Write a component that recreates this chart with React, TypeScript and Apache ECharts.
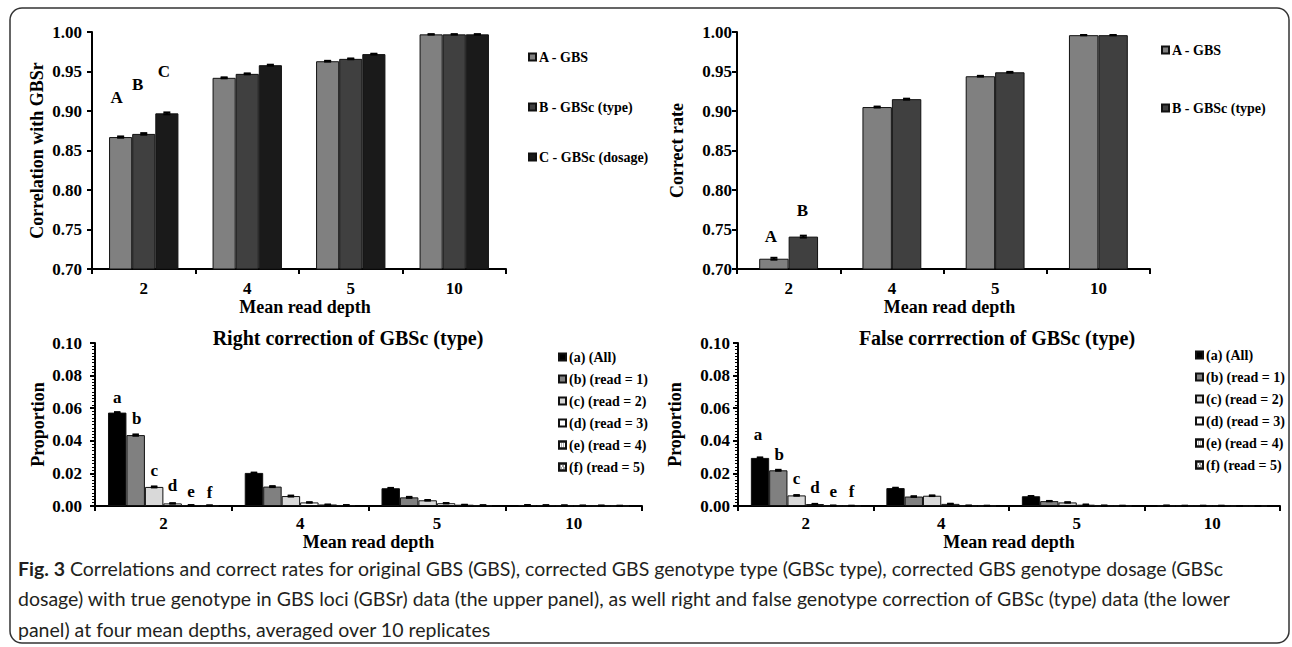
import React, { useEffect, useRef } from "react";
import * as echarts from "echarts";

// ---------------- data ----------------
const depthCategories = ["2", "4", "5", "10"];

// Top-left: correlation with GBSr
const corrNames = ["A - GBS", "B - GBSc (type)", "C - GBSc (dosage)"];
const corrLetters = ["A", "B", "C"];
const corrGBS = [0.867, 0.942, 0.963, 0.997];
const corrGBScType = [0.871, 0.947, 0.966, 0.997];
const corrGBScDosage = [0.897, 0.958, 0.972, 0.997];
const corrGBSErr = [0.0008, 0.0006, 0.0005, 0.0002];
const corrGBScTypeErr = [0.001, 0.0006, 0.0005, 0.0002];
const corrGBScDosageErr = [0.0012, 0.0006, 0.0005, 0.0002];

// Top-right: correct rate
const rateNames = ["A - GBS", "B - GBSc (type)"];
const rateLetters = ["A", "B"];
const rateGBS = [0.713, 0.905, 0.944, 0.996];
const rateGBScType = [0.741, 0.915, 0.949, 0.996];
const rateGBSErr = [0.0012, 0.0006, 0.0005, 0.0002];
const rateGBScTypeErr = [0.0012, 0.0006, 0.0005, 0.0002];

// Bottom: right / false correction of GBSc (type)
const readNames = ["(a) (All)", "(b) (read = 1)", "(c) (read = 2)", "(d) (read = 3)", "(e) (read = 4)", "(f) (read = 5)"];
const readLetters = ["a", "b", "c", "d", "e", "f"];

const rightAll = [0.0573, 0.0203, 0.0109, 0.0005];
const rightRead1 = [0.0435, 0.0119, 0.0053, 0.0004];
const rightRead2 = [0.0117, 0.0061, 0.0035, 0.0003];
const rightRead3 = [0.0016, 0.0022, 0.0017, 0.0002];
const rightRead4 = [0.0005, 0.0008, 0.0007, 0.0002];
const rightRead5 = [0.0003, 0.0005, 0.0004, 0.0001];
const rightAllErr = [0.0003, 0.0002, 0.0002, 0.0001];
const rightRead1Err = [0.0004, 0.0003, 0.0003, 0.0001];
const rightRead2Err = [0.0003, 0.0003, 0.0002, 0.0001];
const rightRead3Err = [0.0001, 0.0001, 0.0001, 0.0];
const rightRead4Err = [0.0, 0.0, 0.0, 0.0];
const rightRead5Err = [0.0, 0.0, 0.0, 0.0];

const falseAll = [0.0295, 0.011, 0.006, 0.0002];
const falseRead1 = [0.0219, 0.0058, 0.003, 0.0001];
const falseRead2 = [0.0065, 0.0063, 0.0022, 0.0001];
const falseRead3 = [0.0012, 0.0013, 0.0008, 0.0001];
const falseRead4 = [0.0002, 0.0002, 0.0002, 0.0];
const falseRead5 = [0.0001, 0.0001, 0.0001, 0.0];
const falseAllErr = [0.0003, 0.0002, 0.0001, 0.0];
const falseRead1Err = [0.0003, 0.0002, 0.0001, 0.0];
const falseRead2Err = [0.0002, 0.0002, 0.0001, 0.0];
const falseRead3Err = [0.0001, 0.0001, 0.0, 0.0];
const falseRead4Err = [0.0, 0.0, 0.0, 0.0];
const falseRead5Err = [0.0, 0.0, 0.0, 0.0];

const rightTitle = "Right correction of GBSc (type)";
const falseTitle = "False corrrection of GBSc (type)";
const xName = "Mean read depth";
const captionLines = [
  " Correlations and correct rates for original GBS (GBS), corrected GBS genotype type (GBSc type), corrected GBS genotype dosage (GBSc",
  "dosage) with true genotype in GBS loci (GBSr) data (the upper panel), as well right and false genotype correction of GBSc (type) data (the lower",
  "panel) at four mean depths, averaged over 10 replicates",
];

// ---------------- styles ----------------
const SERIF = "Liberation Serif";
const CAPTION_FONT = "Lato";
const topColors = ["#808080", "#404040", "#1a1a1a"];
const readColors = ["#000000", "#808080", "#d9d9d9", "#ffffff", "#ffffff", "#ffffff"];
const readDecals: any[] = [
  null,
  null,
  null,
  null,
  { symbol: "rect", symbolSize: 1, color: "#666666", dashArrayX: [1, 1], dashArrayY: [1, 1] },
  { symbol: "rect", symbolSize: 1, color: "#444444", dashArrayX: [[2, 1], [0, 1, 2, 0]], dashArrayY: [1, 1] },
];

const TOP_GAP_L = 0.33;
const TOP_GAP_R = 0.43;
const BOT_GAP = 0.19;

function boldText(size: number) {
  return { fontFamily: SERIF, fontWeight: "bold" as const, fontSize: size, color: "#000" };
}

function makeErrRenderer(n: number, gap: number) {
  return (params: any, api: any) => {
    const cat = api.value(0);
    const val = api.value(1);
    const err = api.value(2);
    const idx = api.value(3);
    const c = api.coord([cat, val]);
    const bandW = api.size([1, 0])[0];
    const bw = (bandW * (1 - gap)) / n;
    const x = c[0] + (idx - (n - 1) / 2) * bw;
    const yHi = api.coord([cat, val + err])[1];
    const yLo = api.coord([cat, val - err])[1];
    const cap = Math.min(7, bw * 0.35);
    const st = { stroke: "#000", lineWidth: 2 };
    return {
      type: "group",
      children: [
        { type: "line", shape: { x1: x, y1: yHi, x2: x, y2: yLo }, style: st },
        { type: "line", shape: { x1: x - cap / 2, y1: yHi, x2: x + cap / 2, y2: yHi }, style: st },
        { type: "line", shape: { x1: x - cap / 2, y1: yLo, x2: x + cap / 2, y2: yLo }, style: st },
      ],
    };
  };
}

function yAxis(g: number, min: number, max: number, interval: number, name: string, nameGap: number, margin: number, minor: boolean) {
  return {
    type: "value",
    gridIndex: g,
    min,
    max,
    interval,
    name,
    nameLocation: "middle",
    nameGap,
    nameTextStyle: boldText(18),
    axisLine: { show: true, lineStyle: { color: "#000", width: 2 } },
    axisTick: { show: true, inside: false, length: 5, lineStyle: { color: "#000", width: 2 } },
    minorTick: minor
      ? { show: true, splitNumber: 10, length: 3, lineStyle: { color: "#000", width: 1 } }
      : { show: false },
    splitLine: { show: false },
    axisLabel: { ...boldText(17), margin, formatter: (v: number) => v.toFixed(2) },
  };
}

function xAxis(g: number, nameGap: number, margin: number, namePad: number) {
  return {
    type: "category",
    gridIndex: g,
    data: depthCategories,
    name: xName,
    nameLocation: "middle",
    nameGap,
    nameTextStyle: { ...boldText(18), padding: [0, 0, 0, namePad] },
    axisLine: { show: true, lineStyle: { color: "#000", width: 2 } },
    axisTick: { show: true, alignWithLabel: false, length: 5, lineStyle: { color: "#000", width: 2 } },
    axisLabel: { ...boldText(17), margin },
    splitLine: { show: false },
  };
}

function barSeries(
  g: number,
  name: string,
  values: number[],
  color: string,
  gap: number,
  letter: string,
  letterOffset: number[],
  decal: any,
  letterSize: number
) {
  return {
    type: "bar",
    name,
    xAxisIndex: g,
    yAxisIndex: g,
    barGap: "0%",
    barCategoryGap: `${Math.round(gap * 100)}%`,
    itemStyle: { color, borderColor: "#111", borderWidth: 1, ...(decal ? { decal } : {}) },
    data: values.map((v, i) =>
      i === 0
        ? {
            value: v,
            label: {
              show: true,
              position: "top",
              formatter: letter,
              offset: letterOffset,
              ...boldText(letterSize),
            },
          }
        : v
    ),
  };
}

function errSeries(g: number, n: number, gap: number, valueSets: number[][], errSets: number[][]) {
  const data: number[][] = [];
  valueSets.forEach((vals, s) => {
    vals.forEach((v, i) => {
      data.push([i, v, errSets[s][i], s]);
    });
  });
  return {
    type: "custom",
    xAxisIndex: g,
    yAxisIndex: g,
    silent: true,
    z: 5,
    clip: false,
    renderItem: makeErrRenderer(n, gap),
    data,
  };
}

function legend(left: number, top: number, gap: number, names: string[]) {
  return {
    orient: "vertical",
    left,
    top,
    itemGap: gap,
    itemWidth: 7,
    itemHeight: 7,
    icon: "rect",
    selectedMode: false,
    textStyle: { ...boldText(14), padding: [0, 0, 0, -2] },
    data: names,
  };
}

export default function App() {
  const ref = useRef<HTMLDivElement>(null);

  useEffect(() => {
    if (!ref.current) return;
    const chart = echarts.init(ref.current, undefined, { renderer: "svg" });

    const corrVals = [corrGBS, corrGBScType, corrGBScDosage];
    const corrErrs = [corrGBSErr, corrGBScTypeErr, corrGBScDosageErr];
    const corrOffsets = [[-4, -26], [-6, -36], [-3, -28]];

    const rateVals = [rateGBS, rateGBScType];
    const rateErrs = [rateGBSErr, rateGBScTypeErr];
    const rateOffsets = [[-3, -9], [-1, -13]];

    const rightVals = [rightAll, rightRead1, rightRead2, rightRead3, rightRead4, rightRead5];
    const rightErrs = [rightAllErr, rightRead1Err, rightRead2Err, rightRead3Err, rightRead4Err, rightRead5Err];
    const rightOffsets = [[0, -2], [1, -3], [0, -3], [0, -4], [0, 0], [0, 1]];

    const falseVals = [falseAll, falseRead1, falseRead2, falseRead3, falseRead4, falseRead5];
    const falseErrs = [falseAllErr, falseRead1Err, falseRead2Err, falseRead3Err, falseRead4Err, falseRead5Err];
    const falseOffsets = [[-2, -10], [1, -2], [0, -3], [0, -3], [0, 0], [0, 0]];

    const series: any[] = [];
    corrVals.forEach((vals, s) =>
      series.push(barSeries(0, corrNames[s], vals, topColors[s], TOP_GAP_L, corrLetters[s], corrOffsets[s], null, 17))
    );
    series.push(errSeries(0, 3, TOP_GAP_L, corrVals, corrErrs));
    rateVals.forEach((vals, s) =>
      series.push(barSeries(1, rateNames[s], vals, topColors[s], TOP_GAP_R, rateLetters[s], rateOffsets[s], null, 17))
    );
    series.push(errSeries(1, 2, TOP_GAP_R, rateVals, rateErrs));
    rightVals.forEach((vals, s) =>
      series.push(barSeries(2, readNames[s], vals, readColors[s], BOT_GAP, readLetters[s], rightOffsets[s], readDecals[s], 17))
    );
    series.push(errSeries(2, 6, BOT_GAP, rightVals, rightErrs));
    falseVals.forEach((vals, s) =>
      series.push(barSeries(3, readNames[s], vals, readColors[s], BOT_GAP, readLetters[s], falseOffsets[s], readDecals[s], 17))
    );
    series.push(errSeries(3, 6, BOT_GAP, falseVals, falseErrs));

    const option: any = {
      animation: false,
      backgroundColor: "#ffffff",
      textStyle: { fontFamily: SERIF },
      grid: [
        { left: 92, top: 32, width: 414, height: 237, outerBoundsMode: "none" },
        { left: 737, top: 32, width: 413, height: 237, outerBoundsMode: "none" },
        { left: 95, top: 343, width: 547, height: 163, outerBoundsMode: "none" },
        { left: 738, top: 343, width: 542, height: 163, outerBoundsMode: "none" },
      ],
      xAxis: [xAxis(0, 27, 11, 12), xAxis(1, 27, 11, 12), xAxis(2, 25, 9, 0), xAxis(3, 25, 9, 0)],
      yAxis: [
        yAxis(0, 0.7, 1.0, 0.05, "Correlation with GBSr", 46, 10, false),
        yAxis(1, 0.7, 1.0, 0.05, "Correct rate", 51, 5, false),
        yAxis(2, 0, 0.1, 0.02, "Proportion", 48, 13, true),
        yAxis(3, 0, 0.1, 0.02, "Proportion", 54, 8, true),
      ],
      legend: [
        legend(523, 45, 36, corrNames),
        legend(1156, 38, 44, rateNames),
        legend(553, 345, 8, readNames),
        legend(1190, 343, 8, readNames),
      ],
      series,
      graphic: [
        {
          type: "rect",
          shape: { x: 10, y: 8, width: 1279, height: 635, r: 12 },
          style: { fill: "none", stroke: "#333", lineWidth: 1.5 },
          silent: true,
          z: -10,
        },
        {
          type: "text",
          x: 348,
          y: 338,
          style: {
            text: rightTitle,
            align: "center",
            verticalAlign: "middle",
            fontFamily: SERIF,
            fontWeight: "bold",
            fontSize: 20,
            fill: "#000",
          },
        },
        {
          type: "text",
          x: 997,
          y: 338,
          style: {
            text: falseTitle,
            align: "center",
            verticalAlign: "middle",
            fontFamily: SERIF,
            fontWeight: "bold",
            fontSize: 20,
            fill: "#000",
          },
        },
        ...captionLines.map((line, i) => ({
          type: "text",
          x: 18,
          y: 568 + i * 30.5,
          style: {
            text: i === 0 ? `{b|Fig. 3}${line}` : line,
            verticalAlign: "middle",
            fontFamily: CAPTION_FONT,
            fontSize: 19.5,
            fill: "#231f20",
            rich: {
              b: { fontFamily: CAPTION_FONT, fontSize: 19.5, fontWeight: "bold", fill: "#231f20" },
            },
          },
        })),
      ],
    };

    chart.setOption(option);
    return () => chart.dispose();
  }, []);

  return (
    <div
      ref={ref}
      style={{ position: "absolute", left: 0, top: 0, width: 1292, height: 647, background: "#fff" }}
    />
  );
}
